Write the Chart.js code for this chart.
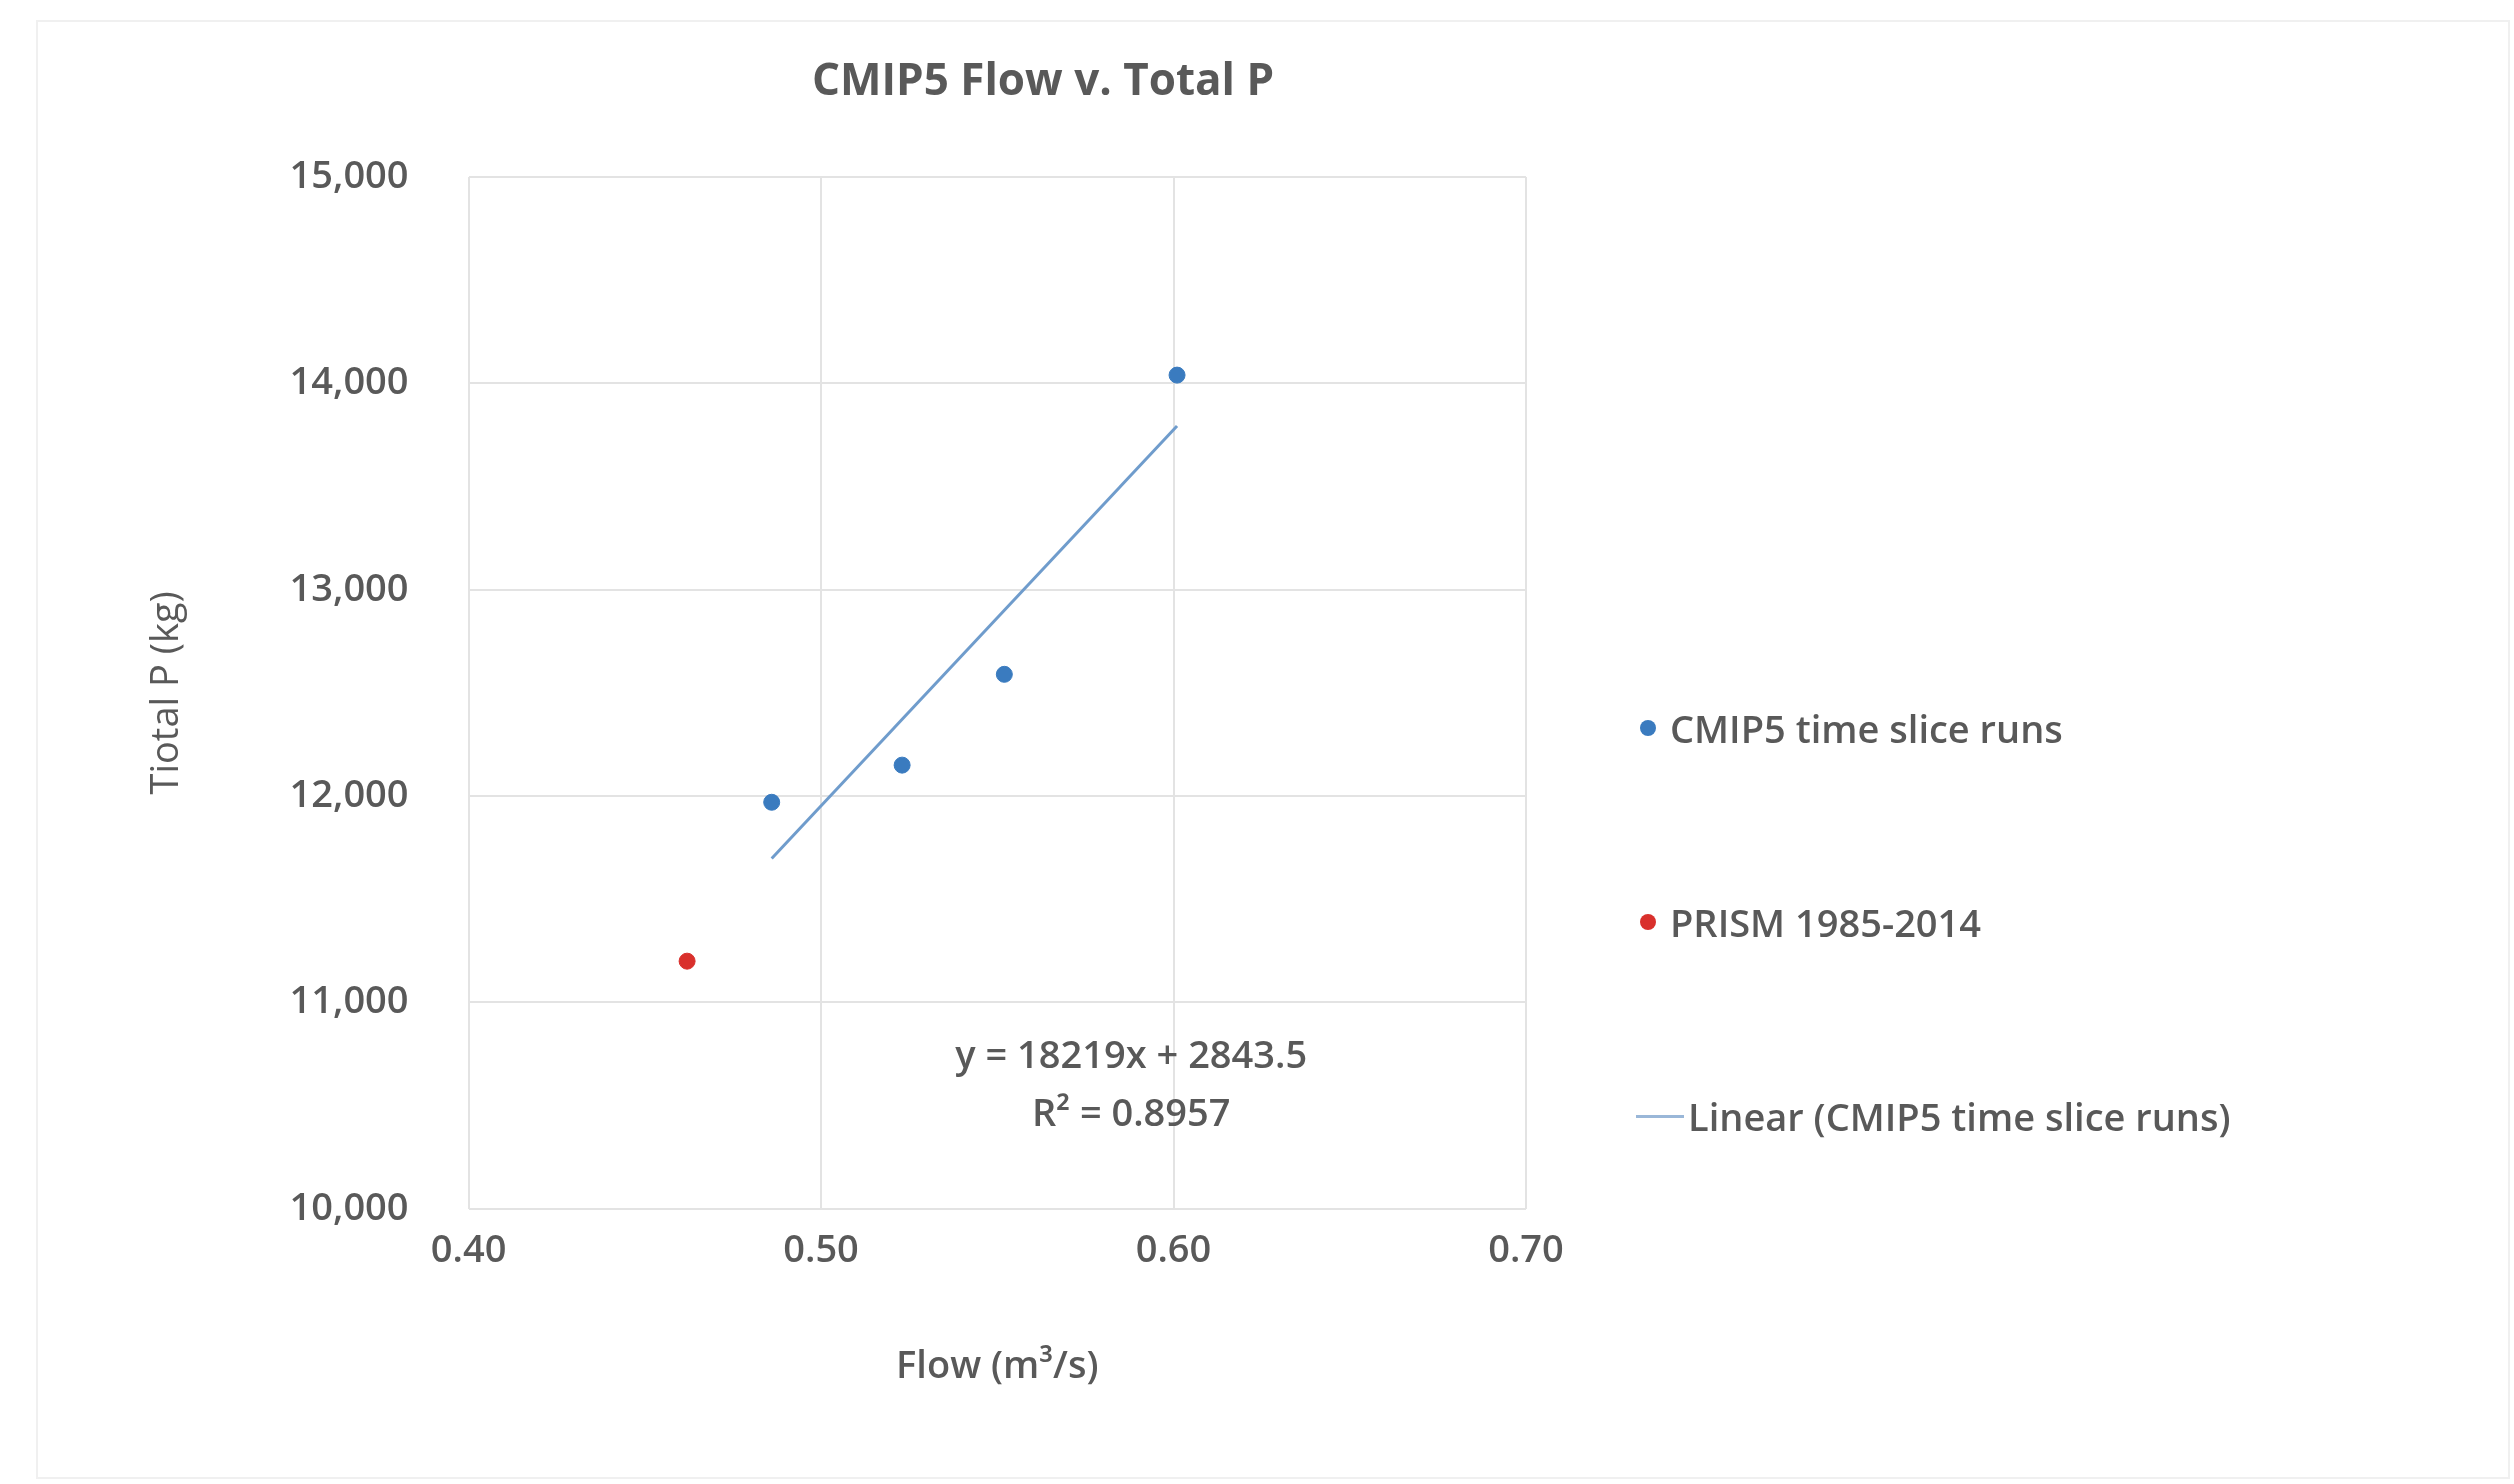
<!DOCTYPE html>
<html><head><meta charset="utf-8">
<script src="https://cdn.jsdelivr.net/npm/chart.js@4"></script>
<style>
body{margin:0;background:#fff;font-family:"Open Sans",sans-serif;}
#wrap{position:absolute;left:36px;top:20px;width:2470px;height:1455px;border:2px solid #f0f0f0;}
#c{position:absolute;left:0;top:0;}
.leg{position:absolute;font:600 38px "Open Sans";color:#595959;display:flex;align-items:center;}
.dot{width:16px;height:16px;border-radius:50%;margin-right:14px;}
.ln{width:48px;height:3px;background:#9ab7d8;margin-right:4px;}
</style></head><body>
<div id="wrap"></div>
<canvas id="c" width="2514" height="1484"></canvas>
<div class="leg" style="left:1640px;top:702px"><div class="dot" style="background:#3a7bbf"></div>CMIP5 time slice runs</div>
<div class="leg" style="left:1640px;top:896px"><div class="dot" style="background:#d9302c"></div>PRISM 1985-2014</div>
<div class="leg" style="left:1636px;top:1090px"><div class="ln"></div>Linear (CMIP5 time slice runs)</div>
<script>
const cmipFlow=[0.486,0.523,0.552,0.601];
const cmipP=[11970,12150,12590,14040];
const prismFlow=[0.462];
const prismP=[11200];
const slope=18219, intercept=2843.5;
const trendX=[0.486,0.601];
const annot=["y = 18219x + 2843.5","R² = 0.8957"];
const titleText='CMIP5 Flow v. Total P';
const c=document.getElementById('c');
c.style.width='2514px';c.style.height='1484px';
const ann={id:'ann',afterDraw(ch){const g=ch.ctx,x=ch.scales.x,y=ch.scales.y;g.save();g.font='600 38px "Open Sans"';g.fillStyle='#595959';g.textAlign='center';
g.fillText(annot[0],x.getPixelForValue(0.588),y.getPixelForValue(10680));g.fillText(annot[1],x.getPixelForValue(0.588),y.getPixelForValue(10400));
g.font='bold 44px "Open Sans"';g.textBaseline='middle';g.fillText(titleText,1043,82);g.restore();}};
new Chart(c,{type:'scatter',data:{datasets:[
{data:cmipFlow.map((v,i)=>({x:v,y:cmipP[i]})),backgroundColor:'#3a7bbf',borderColor:'#3a7bbf',pointRadius:8},
{data:prismFlow.map((v,i)=>({x:v,y:prismP[i]})),backgroundColor:'#d9302c',borderColor:'#d9302c',pointRadius:8},
{type:'line',data:trendX.map(v=>({x:v,y:slope*v+intercept})),borderColor:'#6f9ccc',borderWidth:3,pointRadius:0}
]},plugins:[ann],options:{responsive:false,animation:false,devicePixelRatio:1,
layout:{padding:{left:140,right:988,top:177,bottom:90}},
plugins:{legend:{display:false},tooltip:{enabled:false},title:{display:false}},
scales:{x:{type:'linear',min:0.4,max:0.7,ticks:{stepSize:0.1,callback:v=>v.toFixed(2),font:{family:'Open Sans',size:38,weight:'600'},color:'#595959',padding:20},grid:{color:'#e3e3e3',lineWidth:2,drawTicks:false},border:{display:false},
title:{display:true,text:'Flow (m³/s)',font:{family:'Open Sans',size:38,weight:'600'},color:'#595959',padding:{top:50}}},
y:{min:10000,max:15000,ticks:{stepSize:1000,callback:v=>v.toLocaleString('en-US'),font:{family:'Open Sans',size:38,weight:'600'},color:'#595959',padding:60},grid:{color:'#e3e3e3',lineWidth:2,drawTicks:false},border:{display:false},
title:{display:true,text:'Tiotal P (kg)',font:{family:'Open Sans',size:38},color:'#595959',padding:{bottom:40}}}}}});
</script></body></html>
